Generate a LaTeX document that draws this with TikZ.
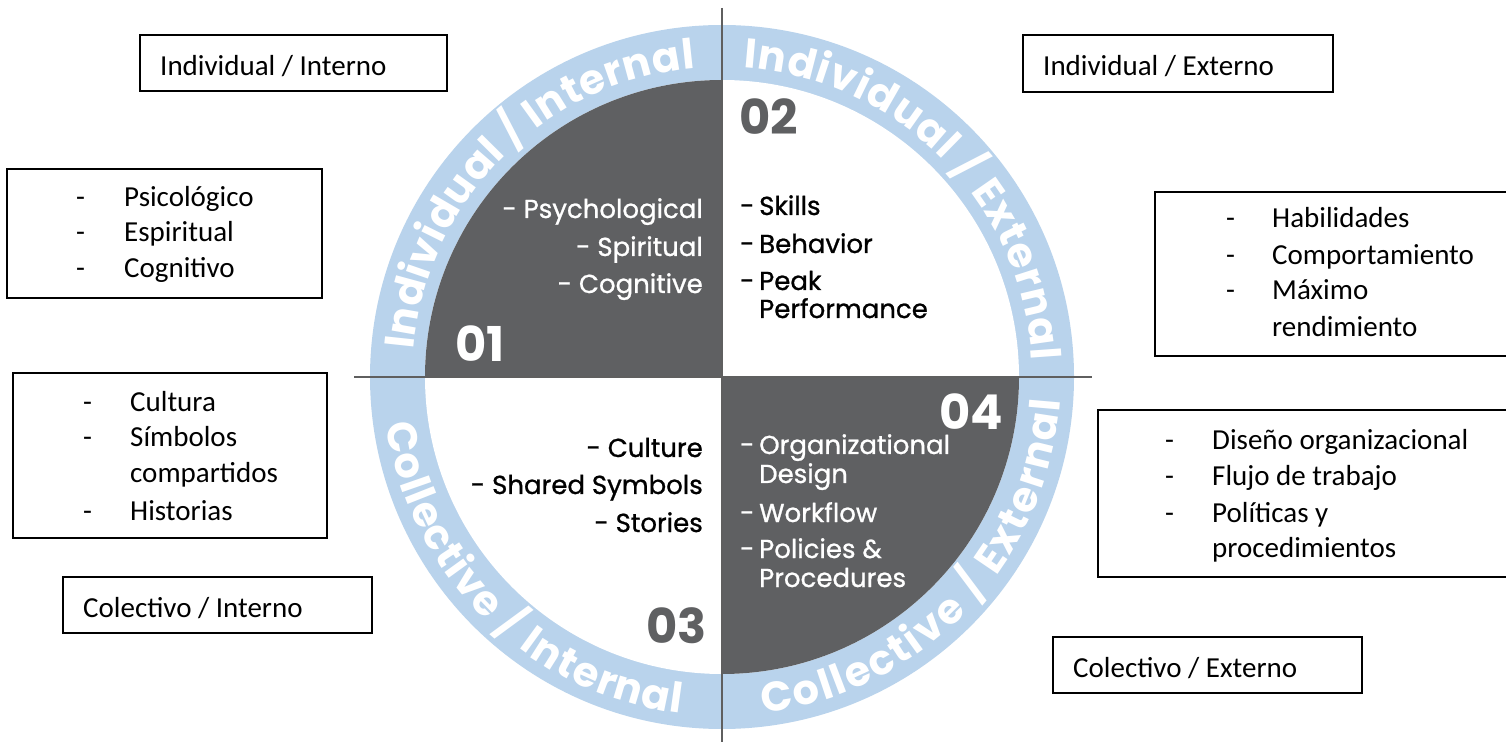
\documentclass[tikz,border=0pt]{standalone}
\usepackage{fontspec}
\setmainfont{Carlito}
\newfontfamily\popfont{Poppins}
\newfontfamily\popmed{Poppins}[FakeBold=0.9]
\usetikzlibrary{decorations.text}
\definecolor{ringblue}{RGB}{185,211,236}
\definecolor{darkq}{RGB}{95,96,98}
\definecolor{axisgray}{RGB}{95,95,95}
\newcommand\ringtxt{\popfont\bfseries\fontsize{41.5pt}{42pt}\selectfont}
\begin{document}
\begin{tikzpicture}[x=1pt,y=1pt,
  boxstyle/.style={draw=black, line width=1.6pt, rectangle, inner sep=0pt, outer sep=0pt, anchor=south west},
  boxtext/.style={anchor=base west, inner sep=0pt, font=\fontsize{29pt}{35pt}\selectfont},
  qtext/.style={inner sep=0pt, font=\popmed\fontsize{26pt}{30pt}\selectfont},
  qnum/.style={inner sep=0pt, font=\popfont\bfseries\fontsize{48pt}{48pt}\selectfont},
  ringlabel/.style={decorate, decoration={text along path, text align=fit to path, text color=white}},
  axisline/.style={draw=axisgray, line width=2pt},
]
\clip (0,0) rectangle (1506,742);
\fill[white] (0,0) rectangle (1506,742);
% ring and quadrants
\begin{scope}[shift={(722,365)}]
 \fill[ringblue] (0,0) circle[radius=352];
 \fill[white] (0,0) circle[radius=297];
 \fill[darkq] (0,0) -- (180:297) arc[start angle=180,end angle=90,radius=297] -- cycle;
 \fill[darkq] (0,0) -- (0:297) arc[start angle=0,end angle=-90,radius=297] -- cycle;
 \path[ringlabel, decoration={text={|\ringtxt|Individual / Internal}}] (175:310) arc[start angle=175,end angle=95,radius=310];
 \path[ringlabel, decoration={text={|\ringtxt|Individual / External}}] (86:310) arc[start angle=86,end angle=3,radius=310];
 \path[ringlabel, decoration={text={|\ringtxt|Collective / Internal}}] (188:339) arc[start angle=188,end angle=263,radius=339];
 \path[ringlabel, decoration={text={|\ringtxt|Collective / External}}] (277:339) arc[start angle=277,end angle=356,radius=339];
\end{scope}
% axes
\coordinate (vtop) at (722,734);
\coordinate (vbot) at (722,0);
\coordinate (hleft) at (354,365);
\coordinate (hright) at (1092,365);
\draw[axisline] (vtop) -- (vbot);
\draw[axisline] (hleft) -- (hright);
% numbers
\node[qnum, white, anchor=base west] (n1) at (455,380) {01};
\node[qnum, darkq, anchor=base west] (n2) at (739,607) {02};
\node[qnum, darkq, anchor=base east] (n3) at (707,99) {03};
\node[qnum, white, anchor=base east] (n4) at (1003,312) {04};
% quadrant 1
\node[qtext, white, anchor=base east] (q1a) at (703,524) {- Psychological};
\node[qtext, white, anchor=base east] (q1b) at (703,486) {- Spiritual};
\node[qtext, white, anchor=base east] (q1c) at (703,449) {- Cognitive};
% quadrant 2
\node[qtext, anchor=base west] (q2d1) at (740,527) {-};
\node[qtext, anchor=base west] (q2a) at (759,527) {Skills};
\node[qtext, anchor=base west] (q2d2) at (740,489) {-};
\node[qtext, anchor=base west] (q2b) at (759,489) {Behavior};
\node[qtext, anchor=base west] (q2d3) at (740,452) {-};
\node[qtext, anchor=base west] (q2c) at (759,452) {Peak};
\node[qtext, anchor=base west] (q2c2) at (759,424) {Performance};
% quadrant 3
\node[qtext, anchor=base east] (q3a) at (703,285) {- Culture};
\node[qtext, anchor=base east] (q3b) at (703,248) {- Shared Symbols};
\node[qtext, anchor=base east] (q3c) at (703,210) {- Stories};
% quadrant 4
\node[qtext, white, anchor=base west] (q4d1) at (740,288) {-};
\node[qtext, white, anchor=base west] (q4a) at (759,288) {Organizational};
\node[qtext, white, anchor=base west] (q4a2) at (759,259) {Design};
\node[qtext, white, anchor=base west] (q4d2) at (740,220) {-};
\node[qtext, white, anchor=base west] (q4b) at (759,220) {Workflow};
\node[qtext, white, anchor=base west] (q4d3) at (740,184) {-};
\node[qtext, white, anchor=base west] (q4c) at (759,184) {Policies \&};
\node[qtext, white, anchor=base west] (q4c2) at (759,155) {Procedures};
% boxes
\node[boxstyle, minimum width=307pt, minimum height=56pt] (b1) at (140,651) {};
\node[boxstyle, minimum width=310pt, minimum height=57pt] (b2) at (1023,650) {};
\node[boxstyle, minimum width=309pt, minimum height=56pt] (b3) at (63,109) {};
\node[boxstyle, minimum width=309pt, minimum height=56pt] (b4) at (1053,49) {};
\node[boxstyle, minimum width=315pt, minimum height=129pt] (b5) at (7,444) {};
\node[boxstyle, minimum width=314pt, minimum height=165pt] (b6) at (13,204) {};
\node[boxstyle, minimum width=370pt, minimum height=164pt] (b7) at (1155,386) {};
\node[boxstyle, minimum width=420pt, minimum height=167pt] (b8) at (1098,165) {};
% box texts
\node[boxtext] (t1) at (160,666) {Individual / Interno};
\node[boxtext] (t2) at (1043,666) {Individual / Externo};
\node[boxtext] (t3) at (83,125) {Colectivo / Interno};
\node[boxtext] (t4) at (1073,65) {Colectivo / Externo};
\node[boxtext] (t5d1) at (76,535) {-};
\node[boxtext] (t5a) at (124,535) {Psicológico};
\node[boxtext] (t5d2) at (76,500) {-};
\node[boxtext] (t5b) at (124,500) {Espiritual};
\node[boxtext] (t5d3) at (76,464) {-};
\node[boxtext] (t5c) at (124,464) {Cognitivo};
\node[boxtext] (t6d1) at (83,330) {-};
\node[boxtext] (t6a) at (130,330) {Cultura};
\node[boxtext] (t6d2) at (83,295) {-};
\node[boxtext] (t6b) at (130,295) {Símbolos};
\node[boxtext] (t6b2) at (130,259) {compartidos};
\node[boxtext] (t6d3) at (83,222) {-};
\node[boxtext] (t6c) at (130,222) {Historias};
\node[boxtext] (t7d1) at (1226,514) {-};
\node[boxtext] (t7a) at (1272,514) {Habilidades};
\node[boxtext] (t7d2) at (1226,477) {-};
\node[boxtext] (t7b) at (1272,477) {Comportamiento};
\node[boxtext] (t7d3) at (1226,442) {-};
\node[boxtext] (t7c) at (1272,442) {Máximo};
\node[boxtext] (t7c2) at (1272,405) {rendimiento};
\node[boxtext] (t8d1) at (1165,292) {-};
\node[boxtext] (t8a) at (1212,292) {Diseño organizacional};
\node[boxtext] (t8d2) at (1165,257) {-};
\node[boxtext] (t8b) at (1212,257) {Flujo de trabajo};
\node[boxtext] (t8d3) at (1165,220) {-};
\node[boxtext] (t8c) at (1212,220) {Políticas y};
\node[boxtext] (t8c2) at (1212,185) {procedimientos};
\end{tikzpicture}
\end{document}
